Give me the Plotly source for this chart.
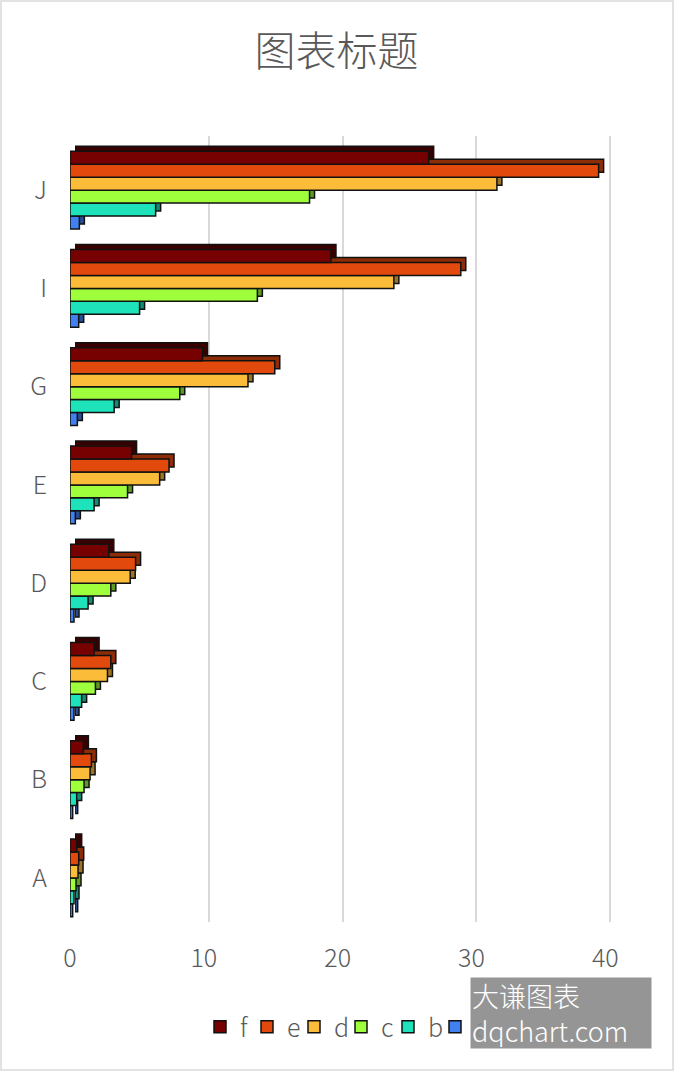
import plotly.graph_objects as go

# categories, bottom to top
cats = ["A", "B", "C", "D", "E", "G", "I", "J"]

a = [0.2, 0.2, 0.3, 0.3, 0.4, 0.55, 0.65, 0.7]
b = [0.3, 0.5, 0.87, 1.35, 1.8, 3.3, 5.2, 6.4]
c = [0.45, 1.05, 1.9, 3.05, 4.3, 8.2, 14.0, 17.9]
d = [0.6, 1.5, 2.8, 4.5, 6.7, 13.3, 24.2, 31.9]
e = [0.65, 1.6, 3.05, 4.9, 7.4, 15.3, 29.2, 39.5]
f = [0.5, 1.0, 1.8, 2.9, 4.6, 9.9, 19.5, 26.8]

# name, values, face colour, depth colour
series = [("a", a, "#4080F0", "#284f96"), ("b", b, "#1EE3BA", "#128c73"),
          ("c", c, "#A0FF3C", "#5f9a22"), ("d", d, "#FBBC3A", "#9c7424"),
          ("e", e, "#E2490C", "#8c2d07"), ("f", f, "#770000", "#380000")]

W, H = 674, 1071
depth = 5
ml, mr, mt, mb = 70, 57, 136, 144
pw, ph = W - ml - mr, H - mt - mb

font = "Noto Sans CJK SC, Noto Sans, sans-serif"
grey = "#595959"
xr = [0, 40.5]

fig = go.Figure()
# depth layer (back plane, shifted up/right)
for name, vals, col, dark in series:
    fig.add_trace(go.Bar(y=cats, x=vals, name=name, orientation="h", showlegend=False,
                         hoverinfo="skip", xaxis="x", yaxis="y",
                         marker=dict(color=dark, line=dict(color="#111111", width=1.5))))
# front faces
for name, vals, col, dark in series:
    fig.add_trace(go.Bar(y=cats, x=vals, name=name, orientation="h",
                         xaxis="x2", yaxis="y2",
                         marker=dict(color=col, line=dict(color="#111111", width=1.5))))

fig.update_layout(
    width=W, height=H,
    margin=dict(l=ml, r=mr, t=mt, b=mb),
    paper_bgcolor="white", plot_bgcolor="rgba(0,0,0,0)",
    barmode="group", bargap=0.21, bargroupgap=0,
    font=dict(family=font, color=grey, size=24, weight=300),
    title=dict(text="图表标题", x=(252 + 421) / 2 / W, xanchor="center",
               y=1 - 52 / H, yanchor="middle",
               font=dict(size=41, color=grey, family=font, weight=300)),
    xaxis=dict(range=xr, domain=[depth / pw, 1], anchor="y", tickvals=[0, 10, 20, 30, 40],
               showgrid=True, gridcolor="#d9d9d9", gridwidth=2, zeroline=False,
               showline=False, ticks="", showticklabels=False),
    yaxis=dict(domain=[depth / ph, 1], anchor="x", showgrid=False, zeroline=False,
               showline=False, ticks="", showticklabels=False),
    xaxis2=dict(range=xr, domain=[0, 1 - depth / pw], anchor="y2", tickvals=[0, 10, 20, 30, 40],
                showgrid=False, zeroline=False, showline=False, ticks="",
                tickfont=dict(size=25, color=grey, weight=300), ticklabelstandoff=14),
    yaxis2=dict(domain=[0, 1 - depth / ph], anchor="x2", showgrid=False, zeroline=False,
                showline=False, ticks="", tickfont=dict(size=25, color=grey, weight=300),
                ticklabelstandoff=22),
    legend=dict(orientation="h", traceorder="reversed", x=(341 - ml) / pw, xanchor="center",
                y=(ph - (1027 - mt)) / ph, yanchor="middle",
                font=dict(size=25, color=grey, weight=300), itemwidth=30, entrywidth=2),
    showlegend=True,
)

# outer border
fig.add_shape(type="rect", xref="paper", yref="paper",
              x0=-(ml - 1) / pw, x1=1 + (mr - 1) / pw,
              y0=-(mb - 1) / ph, y1=1 + (mt - 1) / ph,
              line=dict(color="#d9d9d9", width=1.5), layer="below")

# watermark
fig.add_annotation(xref="paper", yref="paper",
                   x=(561 - ml) / pw, y=(ph - (1013 - mt)) / ph,
                   xanchor="center", yanchor="middle", showarrow=False,
                   text="大谦图表<br>dqchart.com", align="left",
                   width=178, height=68, bgcolor="rgba(140,140,140,0.92)",
                   font=dict(size=27, color="white", family=font, weight=300))

fig.write_html("out.html", config={"displayModeBar": False},
               post_script="document.body.style.margin='0';")
